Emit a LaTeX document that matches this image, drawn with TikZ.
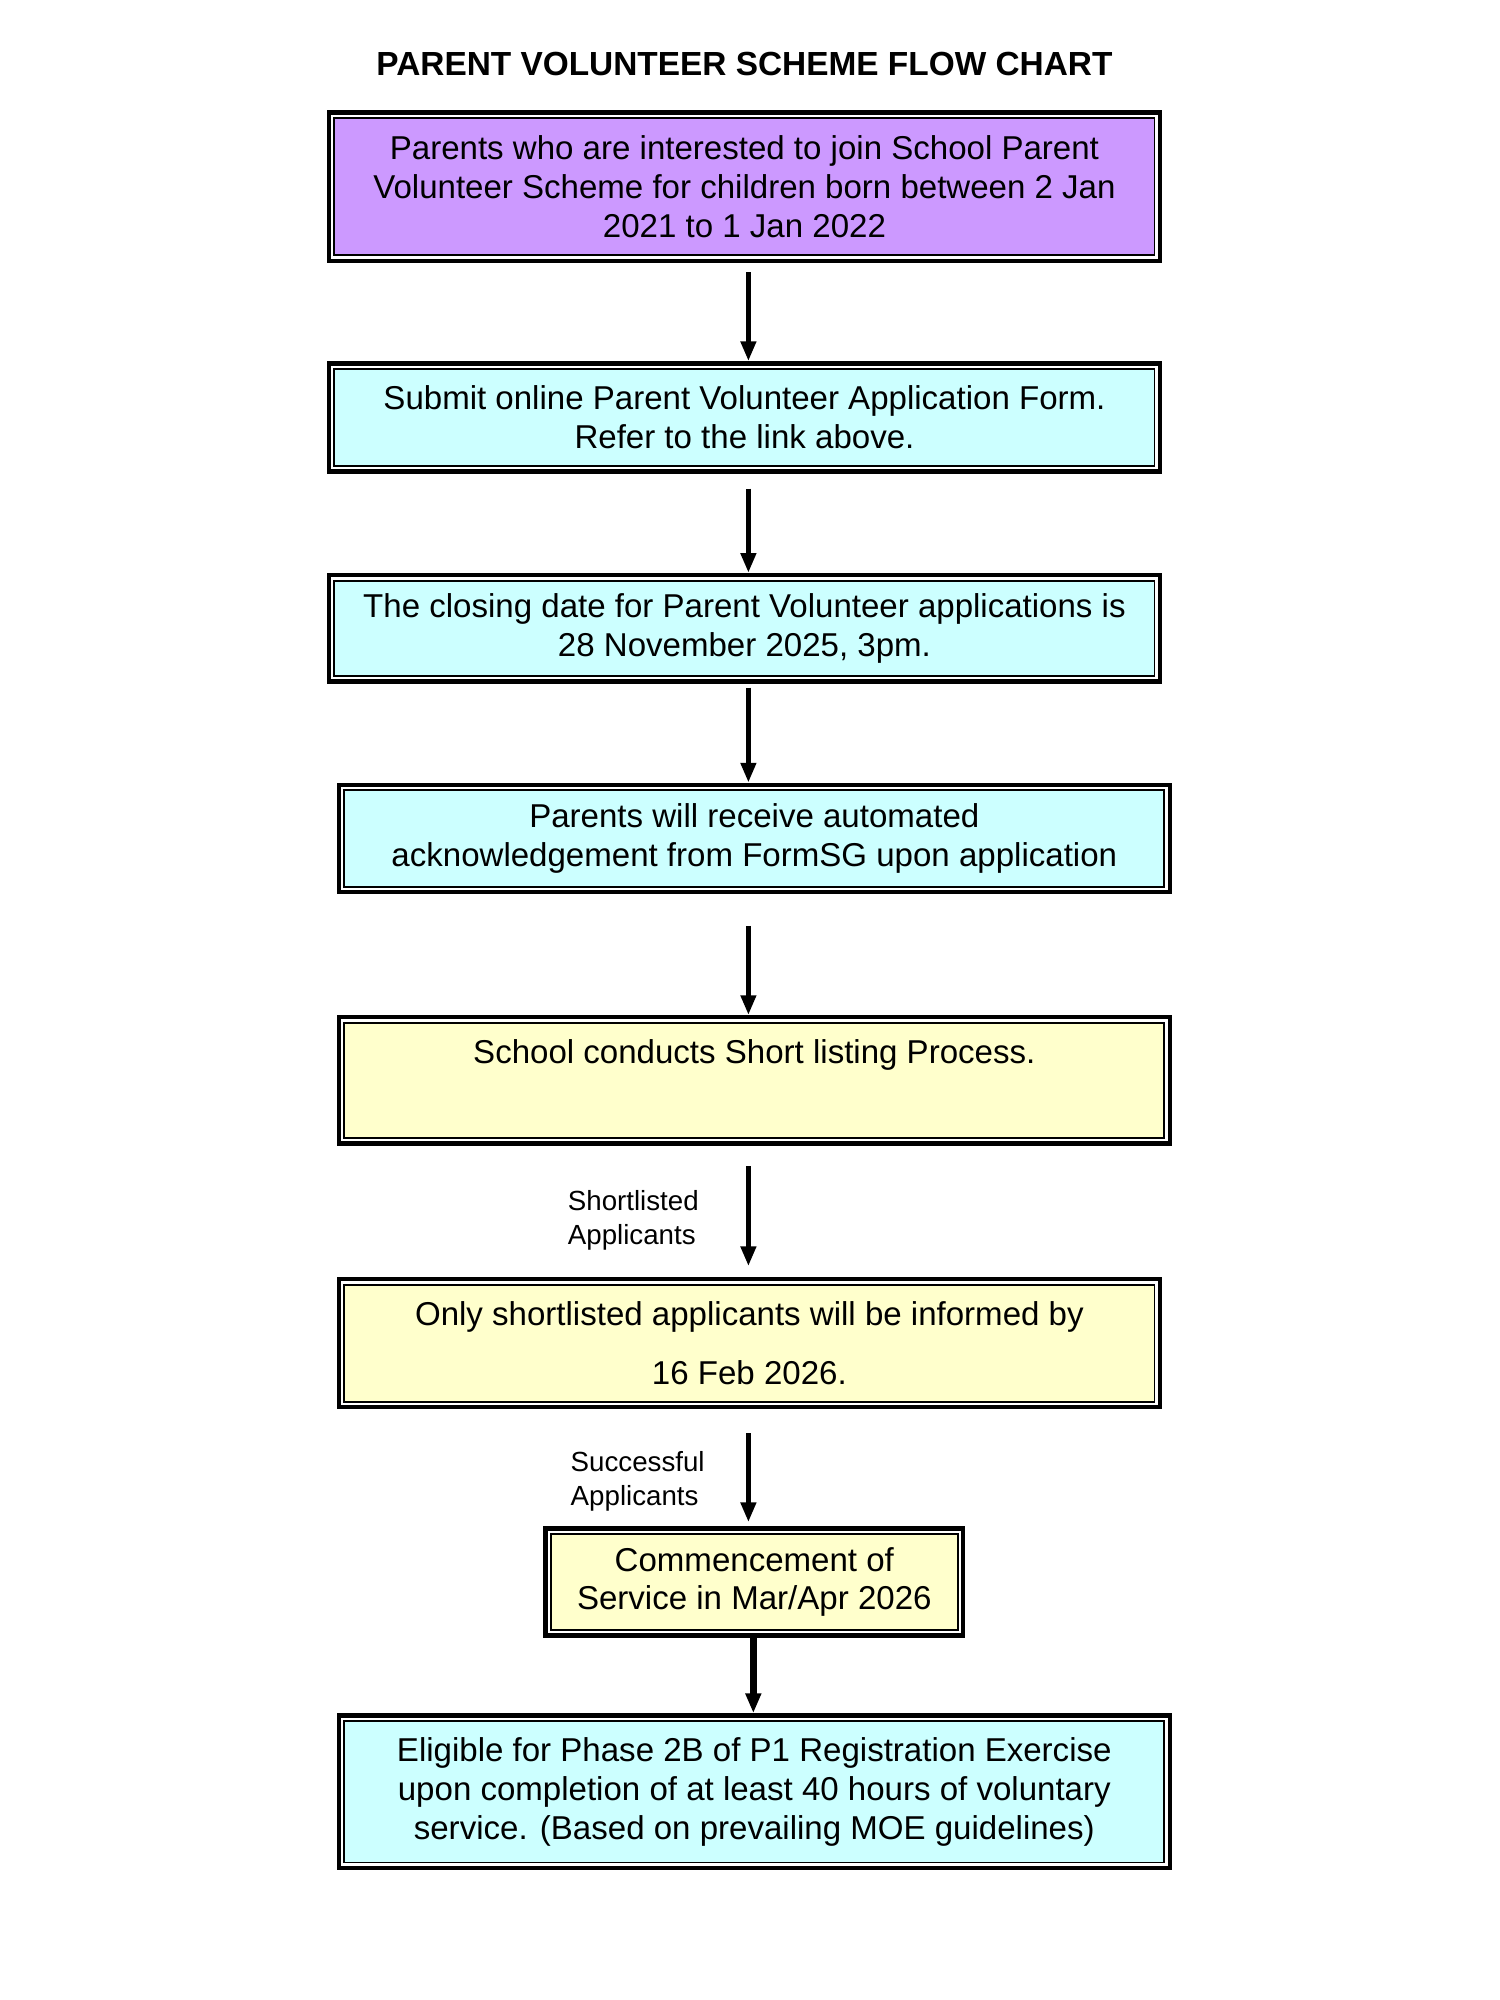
\documentclass[tikz,border=0pt]{standalone}
\usepackage{fontspec}
\setmainfont{Liberation Sans}
\usetikzlibrary{arrows.meta}

\definecolor{boxpurple}{RGB}{204,153,255}
\definecolor{boxcyan}{RGB}{204,255,255}
\definecolor{boxyellow}{RGB}{255,255,204}

\begin{document}
\begin{tikzpicture}[x=0.1mm, y=-0.1mm,
  flowbox/.style={draw, line width=1.3pt, align=center, inner sep=0pt,
    font=\fontsize{9.55}{11.2}\selectfont,
    path picture={
      \draw[white, line width=0.7pt] ([shift={(1pt,-1pt)}]path picture bounding box.north west) rectangle ([shift={(-1pt,1pt)}]path picture bounding box.south east);
      \draw[line width=0.55pt] ([shift={(1.6pt,-1.6pt)}]path picture bounding box.north west) rectangle ([shift={(-1.6pt,1.6pt)}]path picture bounding box.south east);
    }},
  arr/.style={line width=1.4pt, -{Triangle[length=2mm, width=1.5mm]}},
  lbl/.style={align=left, inner sep=0pt, font=\fontsize{8}{9.7}\selectfont}]

\useasboundingbox (0,0) rectangle (1523,2031);

\node[font=\fontsize{9.65}{11.4}\selectfont\bfseries] (title) at (756,65) {PARENT VOLUNTEER SCHEME FLOW CHART};

\node[flowbox, fill=boxpurple, minimum width=84.4mm, minimum height=15.1mm] (join) at (756,189.5)
  {Parents who are interested to join School Parent\\Volunteer Scheme for children born between 2 Jan\\2021 to 1 Jan 2022};
\node[flowbox, fill=boxcyan, minimum width=84.4mm, minimum height=11mm] (submit) at (756,424)
  {Submit online Parent Volunteer Application Form.\\Refer to the link above.};
\node[flowbox, fill=boxcyan, minimum width=84.4mm, minimum height=10.8mm] (closing) at (756,638)
  {The closing date for Parent Volunteer applications is\\28 November 2025, 3pm.};
\node[flowbox, fill=boxcyan, minimum width=84.4mm, minimum height=10.9mm] (ack) at (766,851.5)
  {Parents will receive automated\\acknowledgement from FormSG upon application};
\node[flowbox, fill=boxyellow, minimum width=84.4mm, minimum height=12.8mm] (shortlist) at (766,1097)
  {School conducts Short listing Process.\\[2mm]~};
\node[flowbox, fill=boxyellow, minimum width=83.4mm, minimum height=13mm] (inform) at (761,1364)
  {Only shortlisted applicants will be informed by\\[6pt]16 Feb 2026.};
\node[flowbox, fill=boxyellow, minimum width=42.4mm, minimum height=10.9mm] (service) at (766,1606.5)
  {Commencement of\\Service in Mar/Apr 2026};
\node[flowbox, fill=boxcyan, minimum width=84.4mm, minimum height=15.5mm] (eligible) at (766,1819.5)
  {Eligible for Phase 2B of P1 Registration Exercise\\upon completion of at least 40 hours of voluntary\\service. (Based on prevailing MOE guidelines)};

\coordinate (ax) at (760,0);
\coordinate (bx) at (765,0);

\draw[arr, shorten <=0.9mm] (join.south -| ax) -- (submit.north -| ax);
\draw[arr, shorten <=1.5mm] (submit.south -| ax) -- (closing.north -| ax);
\draw[arr, shorten <=0.4mm] (closing.south -| ax) -- (ack.north -| ax);
\draw[arr, shorten <=3.2mm] (ack.south -| ax) -- (shortlist.north -| ax);
\draw[arr, shorten <=2.1mm, shorten >=1.1mm] (shortlist.south -| ax) -- (inform.north -| ax)
  node[lbl, pos=0.5, left=4.8mm, yshift=-0.9mm] (lblshort) {Shortlisted\\Applicants};
\draw[arr, shorten <=2.4mm, shorten >=0.4mm] (inform.south -| ax) -- (service.north -| ax)
  node[lbl, pos=0.5, left=4.2mm, yshift=-1.4mm] (lblsucc) {Successful\\Applicants};
\draw[arr, line width=2pt] (service.south -| bx) -- (eligible.north -| bx);

\end{tikzpicture}
\end{document}
